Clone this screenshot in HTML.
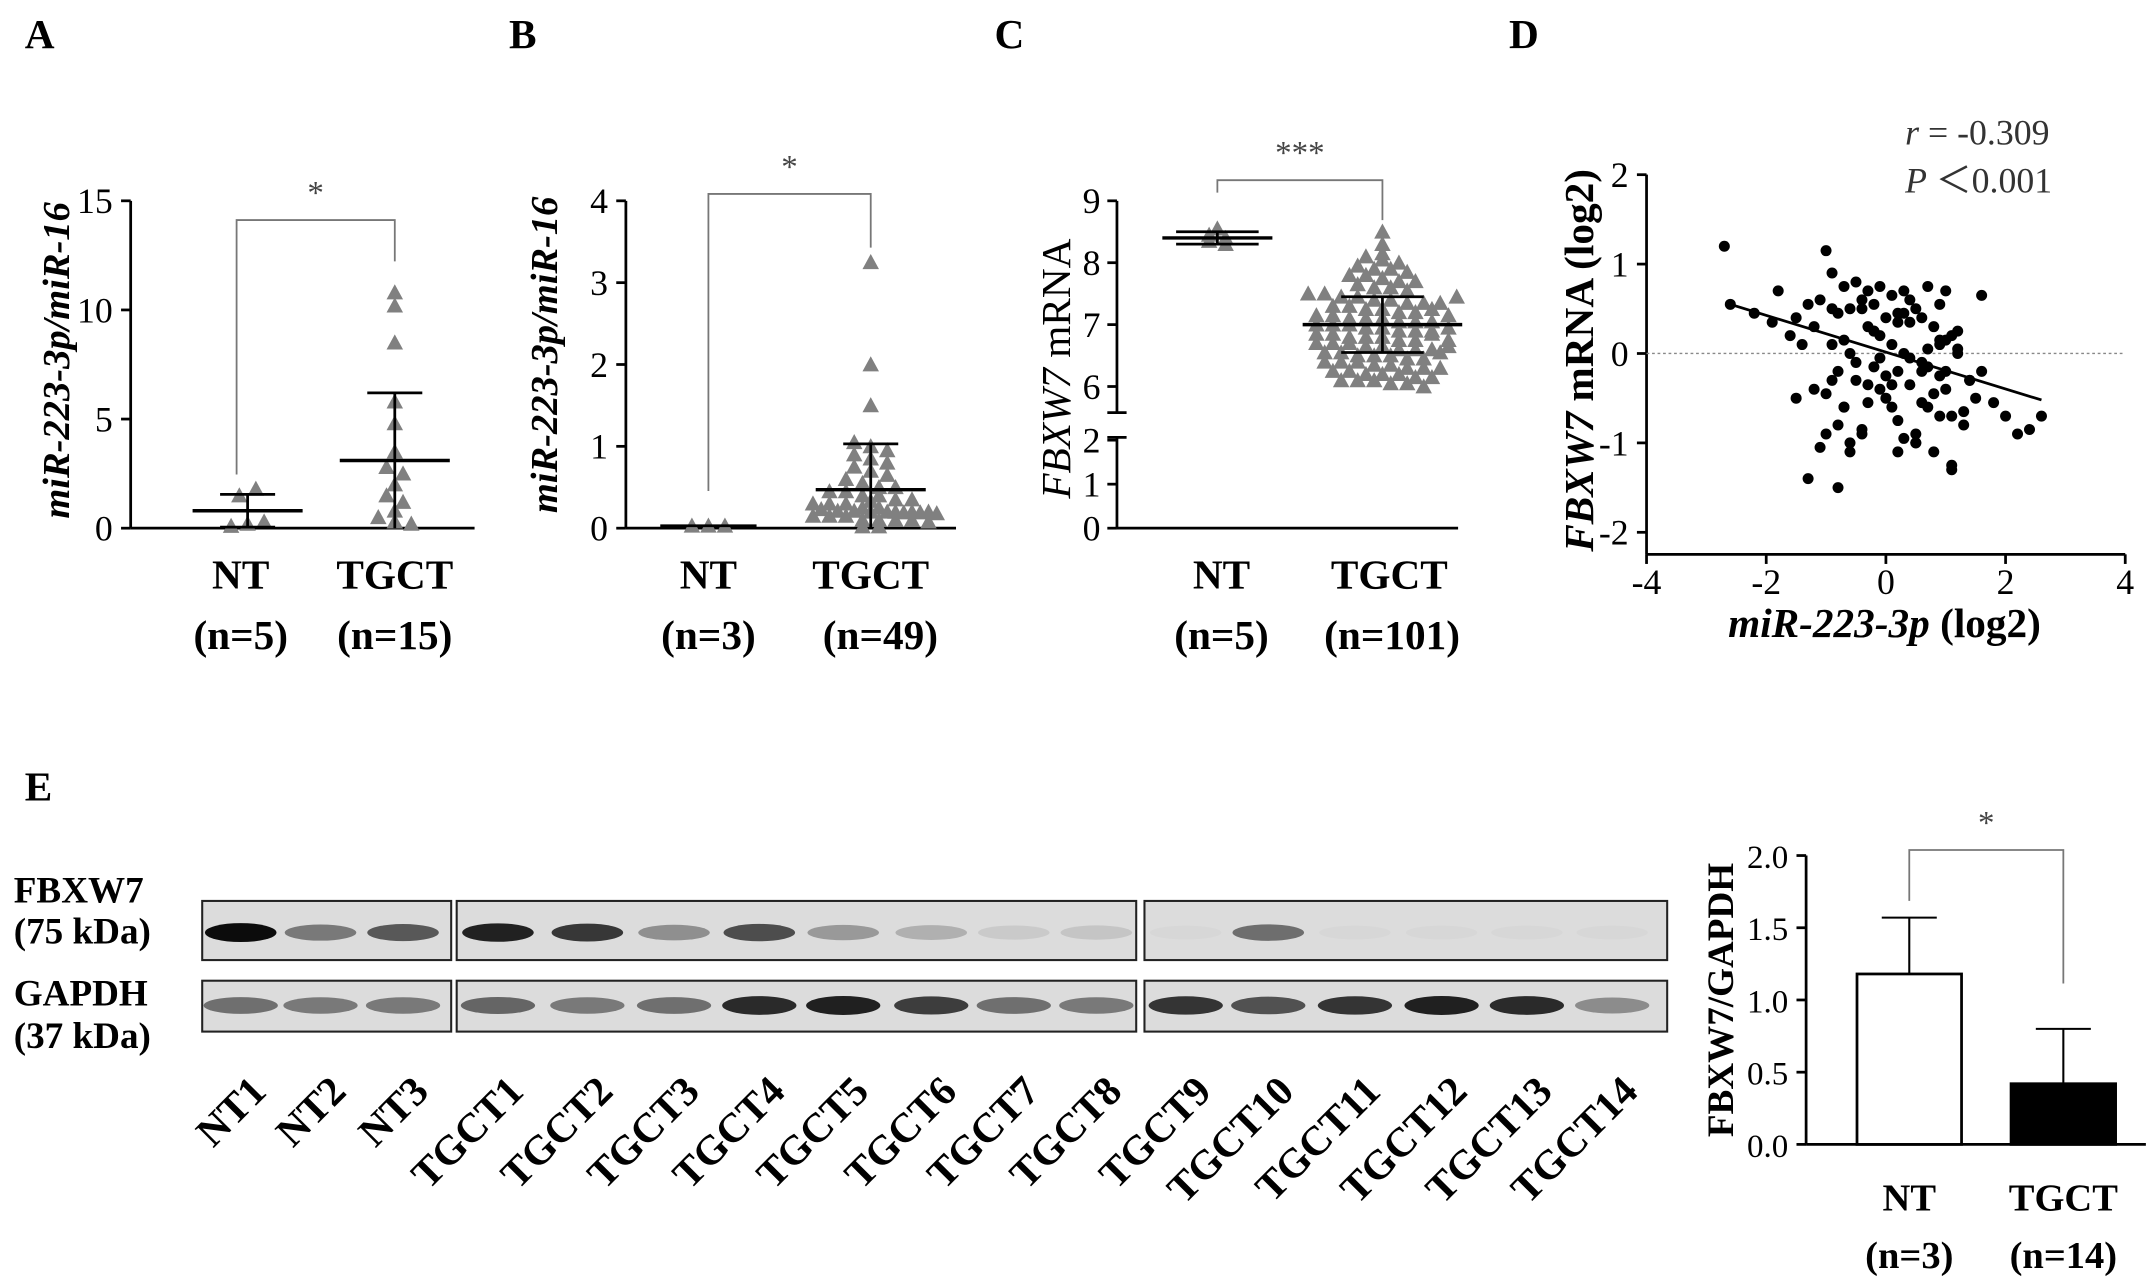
<!DOCTYPE html>
<html><head><meta charset="utf-8"><style>
html,body{margin:0;padding:0;background:#fff}
svg{display:block}
text{font-family:"Liberation Serif",serif}
</style></head><body>
<svg id="fig" xmlns="http://www.w3.org/2000/svg" width="2150" height="1284" viewBox="0 0 1563 933.5" preserveAspectRatio="none"></svg>
<script>
// ---------- data ----------
const aNT=[0.1,0.2,0.3,1.5,1.8];
const aTGCT=[10.8,10.2,8.5,5.8,4.8,3.5,2.8,2.5,2.0,1.5,1.2,0.8,0.5,0.3,0.2];
const aStats=[[0.8,1.55],[3.1,6.2]];
const bNT=[0.03,0.03,0.03];
const bTGCT=[3.25,2.0,1.5,1.05,1.0,0.95,0.9,0.85,0.8,0.75,0.7,0.65,0.6,0.55,0.5,0.5,0.45,0.45,0.4,0.4,0.35,0.35,0.3,0.3,0.3,0.25,0.25,0.2,0.2,0.2,0.15,0.15,0.15,0.1,0.1,0.1,0.1,0.08,0.08,0.06,0.06,0.05,0.05,0.04,0.04,0.03,0.03,0.02,0.02];
const bStats=[[0.03,0.05],[0.47,1.03]];
const cNT=[8.55,8.45,8.4,8.35,8.3];
const cTGCT=[8.5,8.3,8.15,8.1,8.05,8.0,7.95,7.9,7.9,7.85,7.8,7.8,7.75,7.7,7.7,7.65,7.6,7.6,7.55,7.5,7.5,7.45,7.45,7.4,7.4,7.35,7.35,7.3,7.3,7.25,7.25,7.2,7.2,7.15,7.15,7.1,7.1,7.1,7.05,7.05,7.0,7.0,7.0,6.95,6.95,6.9,6.9,6.9,6.85,6.85,6.8,6.8,6.8,6.75,6.75,6.7,6.7,6.7,6.65,6.65,6.6,6.6,6.6,6.55,6.55,6.5,6.5,6.5,6.45,6.45,6.4,6.4,6.4,6.35,6.35,6.3,6.3,6.3,6.25,6.25,6.2,6.2,6.2,6.15,6.15,6.1,6.1,6.1,6.05,6.05,6.0,7.05,6.95,7.15,6.85,7.25,6.75,7.35,6.65,7.45,6.55];
const cStats=[[8.4,8.5],[7.0,7.45]];
const dX=[-2.7,-2.6,-2.2,-1.9,-1.8,-1.6,-1.5,-1.4,-1.3,-1.2,-1.1,-1.0,-1.0,-0.9,-0.9,-0.8,-0.8,-0.7,-0.7,-0.6,-0.6,-0.5,-0.5,-0.4,-0.4,-0.3,-0.3,-0.2,-0.2,-0.1,-0.1,0.0,0.0,0.1,0.1,0.2,0.2,0.3,0.3,0.4,0.4,0.5,0.5,0.6,0.6,0.7,0.7,0.8,0.8,0.9,0.9,1.0,1.0,1.1,1.1,1.2,1.3,1.4,1.5,1.6,1.8,2.0,2.2,2.4,2.6,-1.3,-1.1,-0.9,-0.8,-0.7,-0.5,-0.4,-0.2,-0.1,0.1,0.2,0.4,0.5,0.7,0.8,1.0,1.1,1.3,-1.0,-0.6,-0.3,0.0,0.3,0.6,0.9,1.2,-0.8,-0.2,0.2,0.5,0.9,1.4,-1.5,-0.6,0.1,0.7,1.1,-0.4,0.3,0.9,-1.2,-0.7,-0.1,0.4,1.0,1.6,-0.9,-0.3,0.2,0.6,1.2];
const dY=[1.2,0.55,0.45,0.35,0.7,0.2,0.4,0.1,0.55,0.3,0.6,1.15,-0.45,0.9,0.1,0.45,-0.2,0.75,-0.6,0.5,0.0,0.8,-0.3,0.6,-0.9,0.3,0.7,0.55,-0.15,0.2,0.75,0.4,-0.5,0.65,0.1,0.35,-0.75,0.7,0.0,0.6,-0.35,0.5,-1.0,0.4,-0.2,0.75,-0.6,0.3,-1.1,0.55,0.1,0.7,-0.4,0.2,-1.3,0.0,-0.8,-0.3,-0.5,-0.2,-0.55,-0.7,-0.9,-0.85,-0.7,-1.4,-1.05,-0.3,-1.5,0.15,-0.1,-0.85,0.25,-0.4,-0.6,-1.1,-0.05,-0.9,-0.15,-0.45,-0.2,-1.25,-0.65,-0.9,-1.0,-0.55,-0.25,-0.95,-0.1,-0.7,0.05,-0.8,0.25,-0.2,-1.0,0.15,-0.3,-0.5,-1.1,-0.35,0.05,-0.7,0.5,0.45,-0.25,-0.4,-0.6,-0.05,0.35,0.15,0.65,0.5,-0.35,0.45,-0.55,0.25];
const dFit=[[-2.6,0.55],[2.6,-0.52]];
const eCats=["NT","TGCT"];
const eMeans=[1.18,0.42];
const eSD=[1.57,0.8];
const lanes=["NT1","NT2","NT3","TGCT1","TGCT2","TGCT3","TGCT4","TGCT5","TGCT6","TGCT7","TGCT8","TGCT9","TGCT10","TGCT11","TGCT12","TGCT13","TGCT14"];
const fbxw7=[0.95,0.45,0.6,0.85,0.75,0.35,0.65,0.3,0.2,0.08,0.1,0.02,0.5,0.02,0.02,0.02,0.02];
const gapdh=[0.55,0.5,0.5,0.6,0.5,0.55,0.9,0.95,0.8,0.55,0.5,0.85,0.7,0.85,0.95,0.9,0.4];

// ---------- helpers ----------
const svg=document.getElementById('fig');
const NS="http://www.w3.org/2000/svg";
function mk(tag,attrs,name,txt){const e=document.createElementNS(NS,tag);for(const k in attrs)e.setAttribute(k,attrs[k]);


if(txt!==undefined)e.textContent=txt;svg.appendChild(e);return e;}
function line(x1,y1,x2,y2,name,w,c){return mk('line',{x1,y1,x2,y2,stroke:c||'#000','stroke-width':w||2},name);}
function txt(x,y,s,name,o){o=o||{};return mk('text',Object.assign({x,y,'font-size':o.size||30,'font-weight':o.w||'bold','text-anchor':o.anchor||'middle','font-style':o.it||'normal',fill:o.fill||'#000'},o.extra||{}),name,s);}
function tri(cx,cy,name){mk('path',{d:`M${cx},${cy-6}L${cx+6},${cy+5}L${cx-6},${cy+5}Z`,fill:'#808080'},name);}
function swarm(vals,cx,ys,name,step,maxRow){
  maxRow=maxRow||9;const bins={};vals.forEach(v=>{const y=Math.round(ys(v)/step);(bins[y]=bins[y]||[]).push(v);});
  Object.keys(bins).forEach(k=>{const arr=bins[k];arr.forEach((v,i)=>{const row=Math.floor(i/maxRow),n=Math.min(maxRow,arr.length-row*maxRow),j=i%maxRow;
    const off=(j-(n-1)/2)*12+(row%2)*6;tri(cx+off,ys(v)-row*9,name);});});
}
function errbar(cx,m,hi,ys,wm,ws,name){const lo=2*m-hi;line(cx-wm,ys(m),cx+wm,ys(m),name+'-mean',2.5);line(cx,ys(hi),cx,ys(Math.max(lo,ys.min)),name+'-sd',2);line(cx-ws,ys(hi),cx+ws,ys(hi),name+'-sd-cap',2);if(lo>ys.min)line(cx-ws,ys(lo),cx+ws,ys(lo),name+'-sd-cap-low',2);}
function bracket(x1,x2,y,yl,yr,star,name){mk('path',{d:`M${x1},${yl}V${y}H${x2}V${yr}`,fill:'none',stroke:'#777','stroke-width':1.3},name);txt((x1+x2)/2,y-12,star,name+'-stars',{w:'normal',size:24,fill:'#444'});}

// panel letters
[['A',18,35],['B',370,35],['C',723,35],['D',1097,35],['E',18,582]].forEach(p=>txt(p[1],p[2],p[0],'panel-label-'+p[0].toLowerCase(),{anchor:'start',size:30}));

// ---------- Panel A ----------
(function(){const y0=384,y1=146,max=15;const ys=v=>y0-(v/max)*(y0-y1);ys.min=0;
line(95,y1,95,y0,'a-y-axis');line(95,y0,345,y0,'a-x-axis');
[0,5,10,15].forEach(t=>{line(88,ys(t),95,ys(t),'a-y-tick');txt(82,ys(t)+9,t,'a-y-tick-label',{anchor:'end',w:'normal',size:26});});
txt(50,262,'miR-223-3p/miR-16','a-y-axis-title',{it:'italic',size:28,extra:{transform:'rotate(-90 50 262)'}});
swarm(aNT,180,ys,'a-nt-point',10);swarm(aTGCT,287,ys,'a-tgct-point',10);
errbar(180,aStats[0][0],aStats[0][1],ys,40,20,'a-nt');errbar(287,aStats[1][0],aStats[1][1],ys,40,20,'a-tgct');
bracket(172,287,160,345,190,'*','a-sig-bracket');
txt(175,428,'NT','a-x-label-nt');txt(287,428,'TGCT','a-x-label-tgct');
txt(175,472,'(n=5)','a-n-nt');txt(287,472,'(n=15)','a-n-tgct');})();

// ---------- Panel B ----------
(function(){const y0=384,y1=146,max=4;const ys=v=>y0-(v/max)*(y0-y1);ys.min=0;
line(455,y1,455,y0,'b-y-axis');line(455,y0,695,y0,'b-x-axis');
[0,1,2,3,4].forEach(t=>{line(448,ys(t),455,ys(t),'b-y-tick');txt(442,ys(t)+9,t,'b-y-tick-label',{anchor:'end',w:'normal',size:26});});
txt(405,258,'miR-223-3p/miR-16','b-y-axis-title',{it:'italic',size:28,extra:{transform:'rotate(-90 405 258)'}});
swarm(bNT,515,ys,'b-nt-point',8);swarm(bTGCT,633,ys,'b-tgct-point',9,8);
line(480,ys(0.03),550,ys(0.03),'b-nt-mean',2);
errbar(633,bStats[1][0],bStats[1][1],ys,40,20,'b-tgct');
bracket(515,633,141,357,180,'*','b-sig-bracket');
txt(515,428,'NT','b-x-label-nt');txt(633,428,'TGCT','b-x-label-tgct');
txt(515,472,'(n=3)','b-n-nt');txt(640,472,'(n=49)','b-n-tgct');})();

// ---------- Panel C ----------
(function(){const ys=v=>v>=5.5?146+(9-v)*45:384-v*32;ys.min=0;
line(812,146,812,300,'c-y-axis-upper');line(812,318,812,384,'c-y-axis-lower');line(812,384,1060,384,'c-x-axis');
line(805,300,819,300,'c-axis-break');line(805,318,819,318,'c-axis-break');
[9,8,7,6,2,1,0].forEach(t=>{line(805,ys(t),812,ys(t),'c-y-tick');txt(800,ys(t)+9,t,'c-y-tick-label',{anchor:'end',w:'normal',size:26});});
mk('text',{x:778,y:268,'font-size':30,'text-anchor':'middle',transform:'rotate(-90 778 268)'},'c-y-axis-title').innerHTML='<tspan font-style="italic">FBXW7</tspan> mRNA';
swarm(cNT,885,ys,'c-nt-point',4);swarm(cTGCT,1005,ys,'c-tgct-point',7,11);
errbar(885,cStats[0][0],cStats[0][1],ys,40,30,'c-nt');errbar(1005,cStats[1][0],cStats[1][1],ys,58,30,'c-tgct');
bracket(885,1005,131,140,160,'***','c-sig-bracket');
txt(888,428,'NT','c-x-label-nt');txt(1010,428,'TGCT','c-x-label-tgct');
txt(888,472,'(n=5)','c-n-nt');txt(1012,472,'(n=101)','c-n-tgct');})();

// ---------- Panel D ----------
(function(){const xs=v=>1371+v*43.5,ys=v=>257-v*65;
line(1197,ys(2),1197,403,'d-y-axis');line(1197,403,1545,403,'d-x-axis');
[-2,-1,0,1,2].forEach(t=>{line(1190,ys(t),1197,ys(t),'d-y-tick');txt(1184,ys(t)+9,t,'d-y-tick-label',{anchor:'end',w:'normal',size:26});});
[-4,-2,0,2,4].forEach(t=>{line(xs(t),403,xs(t),410,'d-x-tick');txt(xs(t),432,t,'d-x-tick-label',{w:'normal',size:26});});
line(1197,ys(0),1545,ys(0),'d-zero-line',1,'#888').setAttribute('stroke-dasharray','2,2');
dX.forEach((x,i)=>mk('circle',{cx:xs(x),cy:ys(dY[i]),r:4,fill:'#000'},'d-point'));
line(xs(dFit[0][0]),ys(dFit[0][1]),xs(dFit[1][0]),ys(dFit[1][1]),'d-regression-line',2);
mk('text',{x:1158,y:262,'font-size':30,'font-weight':'bold','text-anchor':'middle',transform:'rotate(-90 1158 262)'},'d-y-axis-title').innerHTML='<tspan font-style="italic">FBXW7</tspan> mRNA (log2)';
mk('text',{x:1370,y:463,'font-size':30,'font-weight':'bold','text-anchor':'middle'},'d-x-axis-title').innerHTML='<tspan font-style="italic">miR-223-3p</tspan> (log2)';
mk('text',{x:1385,y:105,'font-size':26,fill:'#333'},'d-r-value').innerHTML='<tspan font-style="italic">r</tspan> = -0.309';
mk('text',{x:1385,y:140,'font-size':26,fill:'#333'},'d-p-value').innerHTML='<tspan font-style="italic">P</tspan> ＜0.001';})();

// ---------- Panel E blot ----------
(function(){const lx=[175,233,293,362,427,490,552,613,677,737,797,862,922,985,1048,1110,1172];
const groups=[[147,328],[332,826],[832,1212]];
groups.forEach(g=>{mk('rect',{x:g[0],y:655,width:g[1]-g[0],height:43,fill:'#dcdcdc',stroke:'#222','stroke-width':1.5},'blot-fbxw7-panel');
mk('rect',{x:g[0],y:713,width:g[1]-g[0],height:37,fill:'#dcdcdc',stroke:'#222','stroke-width':1.5},'blot-gapdh-panel');});
lanes.forEach((l,i)=>{const a=fbxw7[i],b=gapdh[i];
mk('ellipse',{cx:lx[i],cy:678,rx:26,ry:5+a*2,fill:'#000','fill-opacity':a},'fbxw7-band-'+l.toLowerCase());
mk('ellipse',{cx:lx[i],cy:731,rx:27,ry:5+b*2,fill:'#000','fill-opacity':b*0.9},'gapdh-band-'+l.toLowerCase());
txt(lx[i]+20,795,l,'lane-label-'+l.toLowerCase(),{anchor:'end',size:30,extra:{transform:`rotate(-45 ${lx[i]+20} 795)`}});});
txt(10,656,'FBXW7','blot-label-fbxw7',{anchor:'start',size:27});txt(10,686,'(75 kDa)','blot-label-fbxw7-kda',{anchor:'start',size:27});
txt(10,731,'GAPDH','blot-label-gapdh',{anchor:'start',size:27});txt(10,762,'(37 kDa)','blot-label-gapdh-kda',{anchor:'start',size:27});})();

// ---------- Panel E bar chart ----------
(function(){const y0=832,y1=622,max=2;const ys=v=>y0-(v/max)*(y0-y1);const bx=[1350,1462],bw=76;
line(1313,y1,1313,y0,'e-y-axis');line(1313,y0,1560,y0,'e-x-axis');
[0,0.5,1,1.5,2].forEach(t=>{line(1306,ys(t),1313,ys(t),'e-y-tick');txt(1300,ys(t)+9,t.toFixed(1),'e-y-tick-label',{anchor:'end',w:'normal',size:24});});
txt(1260,727,'FBXW7/GAPDH','e-y-axis-title',{size:27,extra:{transform:'rotate(-90 1260 727)'}});
eCats.forEach((c,i)=>{const cx=bx[i]+bw/2;
line(cx,ys(eMeans[i]),cx,ys(eSD[i]),'e-errbar-'+c.toLowerCase(),1.5);line(cx-20,ys(eSD[i]),cx+20,ys(eSD[i]),'e-errcap-'+c.toLowerCase(),1.5);
mk('rect',{x:bx[i],y:ys(eMeans[i]),width:bw,height:y0-ys(eMeans[i]),fill:i?'#000':'#fff',stroke:'#000','stroke-width':2},'e-bar-'+c.toLowerCase());
txt(cx,880,c,'e-x-label-'+c.toLowerCase(),{size:28});txt(cx,922,i?'(n=14)':'(n=3)','e-n-'+c.toLowerCase(),{size:28});});
bracket(1388,1500,618,655,715,'*','e-sig-bracket');})();
</script>
</body></html>
